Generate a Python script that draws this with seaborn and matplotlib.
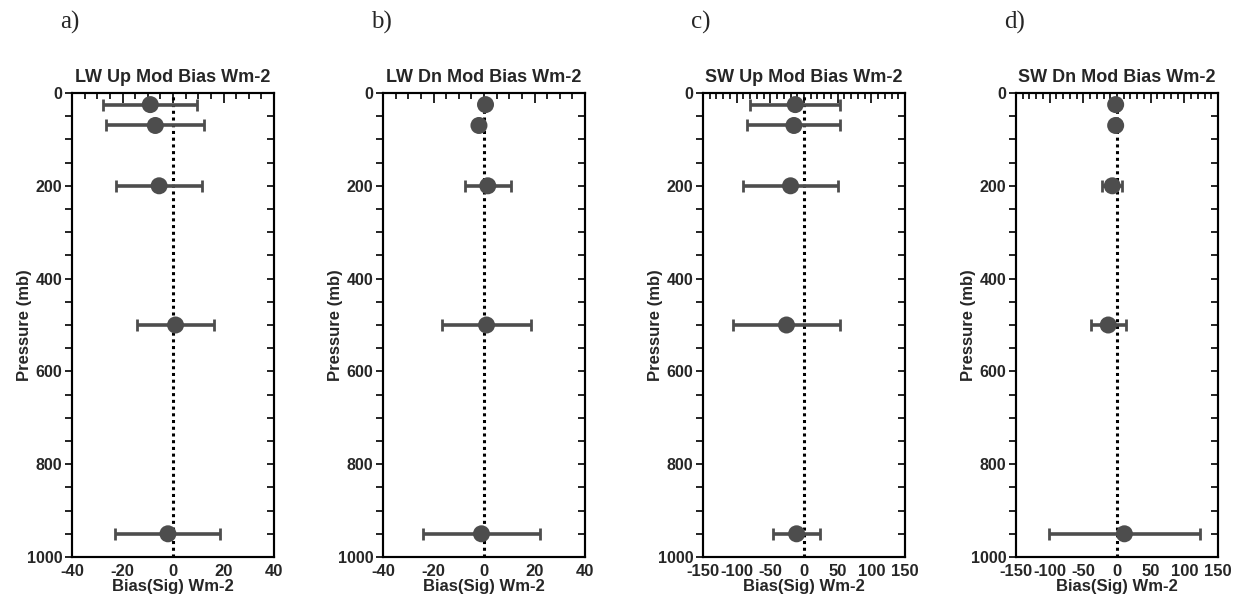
import numpy as np
import pandas as pd
import seaborn as sns
import matplotlib.pyplot as plt
from matplotlib.ticker import MultipleLocator

sns.set_style("white")
plt.rcParams['font.family'] = ['Liberation Sans', 'DejaVu Sans']
plt.rcParams['axes.unicode_minus'] = False

# pressure levels (mb)
pressure = [25, 70, 200, 500, 950]

# bias and 1-sigma for each panel (Wm-2)
lw_up_bias = [-9, -7, -5.5, 1, -2]
lw_up_sig = [18.7, 19.4, 17, 15.2, 20.8]
lw_dn_bias = [0.6, -2, 1.5, 1, -1]
lw_dn_sig = [0, 0, 9, 17.7, 23.2]
sw_up_bias = [-13, -15, -20, -26, -11]
sw_up_sig = [67, 69, 70, 80, 35]
sw_dn_bias = [-2, -2, -7, -13, 11]
sw_dn_sig = [4, 4, 15, 26, 112]

panels = [
    ("a)", "LW Up Mod Bias Wm-2", lw_up_bias, lw_up_sig, 40),
    ("b)", "LW Dn Mod Bias Wm-2", lw_dn_bias, lw_dn_sig, 40),
    ("c)", "SW Up Mod Bias Wm-2", sw_up_bias, sw_up_sig, 150),
    ("d)", "SW Dn Mod Bias Wm-2", sw_dn_bias, sw_dn_sig, 150),
]
lefts = [72, 383, 703, 1016]

W, H = 1237, 602
fig = plt.figure(figsize=(W / 100, H / 100), dpi=100)
grey = "#4d4d4d"

for (letter, title, bias, sig, lim), left in zip(panels, lefts):
    ax = fig.add_axes([left / W, (H - 557) / H, 202 / W, 464 / H])
    df = pd.DataFrame({"bias": bias, "sig": sig, "p": pressure})
    ax.axvline(0, color="black", ls=(0, (1, 1.2)), lw=2.2, zorder=1)
    ax.errorbar(df["bias"], df["p"], xerr=df["sig"], fmt="none", ecolor=grey,
                elinewidth=2.6, capsize=4, capthick=2, zorder=2)
    sns.scatterplot(data=df, x="bias", y="p", ax=ax, color=grey, s=150,
                    edgecolor="none", zorder=3)
    ax.set_xlim(-lim, lim)
    ax.set_ylim(1000, 0)
    if lim == 40:
        ax.xaxis.set_major_locator(MultipleLocator(20))
        ax.xaxis.set_minor_locator(MultipleLocator(5))
    else:
        ax.xaxis.set_major_locator(MultipleLocator(50))
        ax.xaxis.set_minor_locator(MultipleLocator(10))
    ax.yaxis.set_major_locator(MultipleLocator(200))
    ax.yaxis.set_minor_locator(MultipleLocator(50))
    ax.tick_params(axis="x", which="both", direction="in", top=True,
                   width=1.2, color="black", labelsize=12, pad=5)
    ax.tick_params(axis="y", which="both", direction="out", right=False,
                   width=1.2, color="black", labelsize=11.5, pad=2)
    ax.tick_params(which="major", length=7)
    ax.tick_params(which="minor", length=4)
    ax.tick_params(axis="y", which="both", length=5)
    # right-hand ticks point inward
    ax_r = ax.twinx()
    ax_r.set_ylim(1000, 0)
    ax_r.yaxis.set_major_locator(MultipleLocator(200))
    ax_r.yaxis.set_minor_locator(MultipleLocator(50))
    ax_r.tick_params(axis="y", which="both", direction="in", length=5,
                     width=1.2, labelright=False, color="black")
    for lab in ax.get_xticklabels() + ax.get_yticklabels():
        lab.set_fontweight("bold")
    for a in (ax, ax_r):
        for sp in a.spines.values():
            sp.set_linewidth(1.5)
            sp.set_color("black")
    ax.set_xlabel("Bias(Sig) Wm-2", fontsize=12, fontweight="bold", labelpad=0)
    ax.set_ylabel("Pressure (mb)", fontsize=12, fontweight="bold")
    ax.yaxis.set_label_coords(-0.2, 0.5)
    ax.set_title(title, fontsize=13, fontweight="bold", pad=8)
    fig.text((left - 12) / W, 1 - 22 / H, letter, fontsize=18,
             family="Liberation Serif", va="center", ha="left")

fig.savefig("out.png", dpi=100)
